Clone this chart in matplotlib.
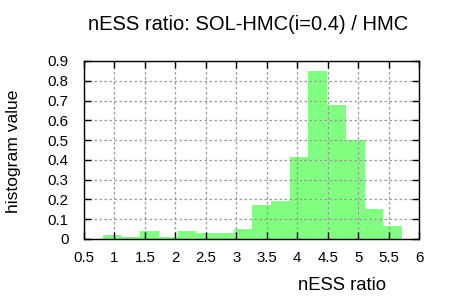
import matplotlib
matplotlib.use("Agg")
import matplotlib.pyplot as plt
import numpy as np

plt.rcParams['font.family'] = ['Liberation Sans', 'DejaVu Sans']

# histogram (density): 16 equal bins
bin_lo = 0.807
bin_hi = 5.72
density = [0.020, 0.010, 0.040, 0.010, 0.040, 0.030, 0.030, 0.050,
           0.172, 0.190, 0.415, 0.850, 0.680, 0.500, 0.152, 0.066]
xticks = [0.5, 1, 1.5, 2, 2.5, 3, 3.5, 4, 4.5, 5, 5.5, 6]
yticks = [0, 0.1, 0.2, 0.3, 0.4, 0.5, 0.6, 0.7, 0.8, 0.9]

edges = np.linspace(bin_lo, bin_hi, len(density) + 1)
width = edges[1] - edges[0]

fig = plt.figure(figsize=(4.5, 3), dpi=100)
ax = fig.add_axes([84 / 450, 1 - 239 / 300, 335 / 450, 178 / 300])

ax.bar(edges[:-1], density, width=width, align='edge', color='#80ff80',
       edgecolor='none', zorder=1)

ax.set_xlim(0.5, 6)
ax.set_ylim(0, 0.9)
ax.set_xticks(xticks)
ax.set_xticklabels([f"{v:g}" for v in xticks])
ax.set_yticks(yticks)
ax.set_yticklabels([f"{v:g}" for v in yticks])
ax.tick_params(direction='in', length=5, width=1, top=True, right=True,
               labelsize=10.8, colors='black')
ax.tick_params(axis='x', pad=8.5)
ax.tick_params(axis='y', pad=11)
ax.grid(True, color='#999999', linestyle=(0, (2, 2)), linewidth=0.9, zorder=2)
ax.set_axisbelow(False)
for s in ax.spines.values():
    s.set_linewidth(1)
    s.set_zorder(3)

fig.text(248 / 450, 1 - 25 / 300, "nESS ratio: SOL-HMC(i=0.4) / HMC",
         ha='center', va='center', fontsize=14.5)
fig.text(342 / 450, 1 - 285 / 300, "nESS ratio", ha='center', va='center',
         fontsize=13.3)
fig.text(13.5 / 450, 1 - 151 / 300, "histogram value", ha='center',
         va='center', rotation=90, fontsize=12.6)

fig.savefig("out.png", dpi=100)
